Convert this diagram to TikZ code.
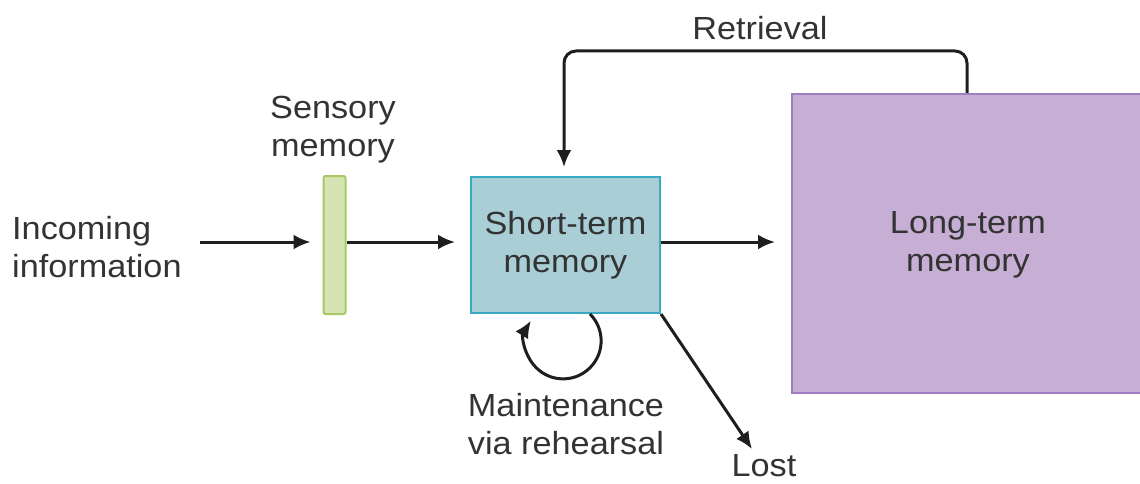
\documentclass[tikz,border=0pt]{standalone}
\usepackage{fontspec}
\setmainfont{Liberation Sans}[FakeStretch=1.07]
\usetikzlibrary{arrows.meta}
\definecolor{stmfill}{HTML}{A9CED6}
\definecolor{stmdraw}{HTML}{38AAC4}
\definecolor{ltmfill}{HTML}{C6AED5}
\definecolor{ltmdraw}{HTML}{A07DC0}
\definecolor{senfill}{HTML}{D5E4B2}
\definecolor{sendraw}{HTML}{A8C864}
\definecolor{txt}{HTML}{333333}
\definecolor{arrc}{HTML}{1E1E1E}
\tikzset{
  lbl/.style={inner sep=0pt, text=txt, font=\fontsize{32}{38}\selectfont, align=center},
  arr/.style={draw=arrc, line width=3pt, -{Latex[length=17pt,width=15pt]}},
  box/.style={inner sep=0pt, line width=2pt}
}
\begin{document}
\begin{tikzpicture}[x=1pt,y=-1pt]
\useasboundingbox (0,0) rectangle (1140,484);
% boxes
\node[box, draw=sendraw, fill=senfill, rounded corners=2pt, minimum width=22pt, minimum height=138pt] (sen) at (334.5,245) {};
\node[box, draw=stmdraw, fill=stmfill, minimum width=189pt, minimum height=136pt] (stm) at (565.5,245) {};
\node[box, draw=ltmdraw, fill=ltmfill, minimum width=352pt, minimum height=299pt] (ltm) at (968,243.5) {};
% texts
\node[lbl, align=left, anchor=west] (inc) at (12,247) {Incoming\\information};
\node[lbl] (senl) at (333,130) {Sensory\\memory};
\node[lbl] (stml) at (565.5,245) {Short-term\\memory};
\node[lbl] (ltml) at (968,245) {Long-term\\memory};
\node[lbl] (ret) at (760,28) {Retrieval};
\node[lbl] (main) at (566,424) {Maintenance\\via rehearsal};
\node[lbl] (lost) at (764,466) {Lost};
% connectors
\coordinate (incend) at (200,242);
\draw[arr, shorten >=12pt] (incend) -- (sen.west |- incend);
\draw[arr, shorten >=15pt] (sen.east |- incend) -- (stm.west |- incend);
\draw[arr, shorten >=16pt] (stm.east |- incend) -- (ltm.west |- incend);
\draw[arr, rounded corners=12pt, shorten >=9pt] (ltm.north -| 967,0) -- (967,51) -- (564,51) -- (stm.north -| 564,0);
\draw[arr] ([xshift=24.5pt]stm.south) arc[start angle=-45, end angle=212, radius=38];
\coordinate (lostend) at (752,449);
\draw[arr] (stm.south east) -- (lostend);
\end{tikzpicture}
\end{document}
